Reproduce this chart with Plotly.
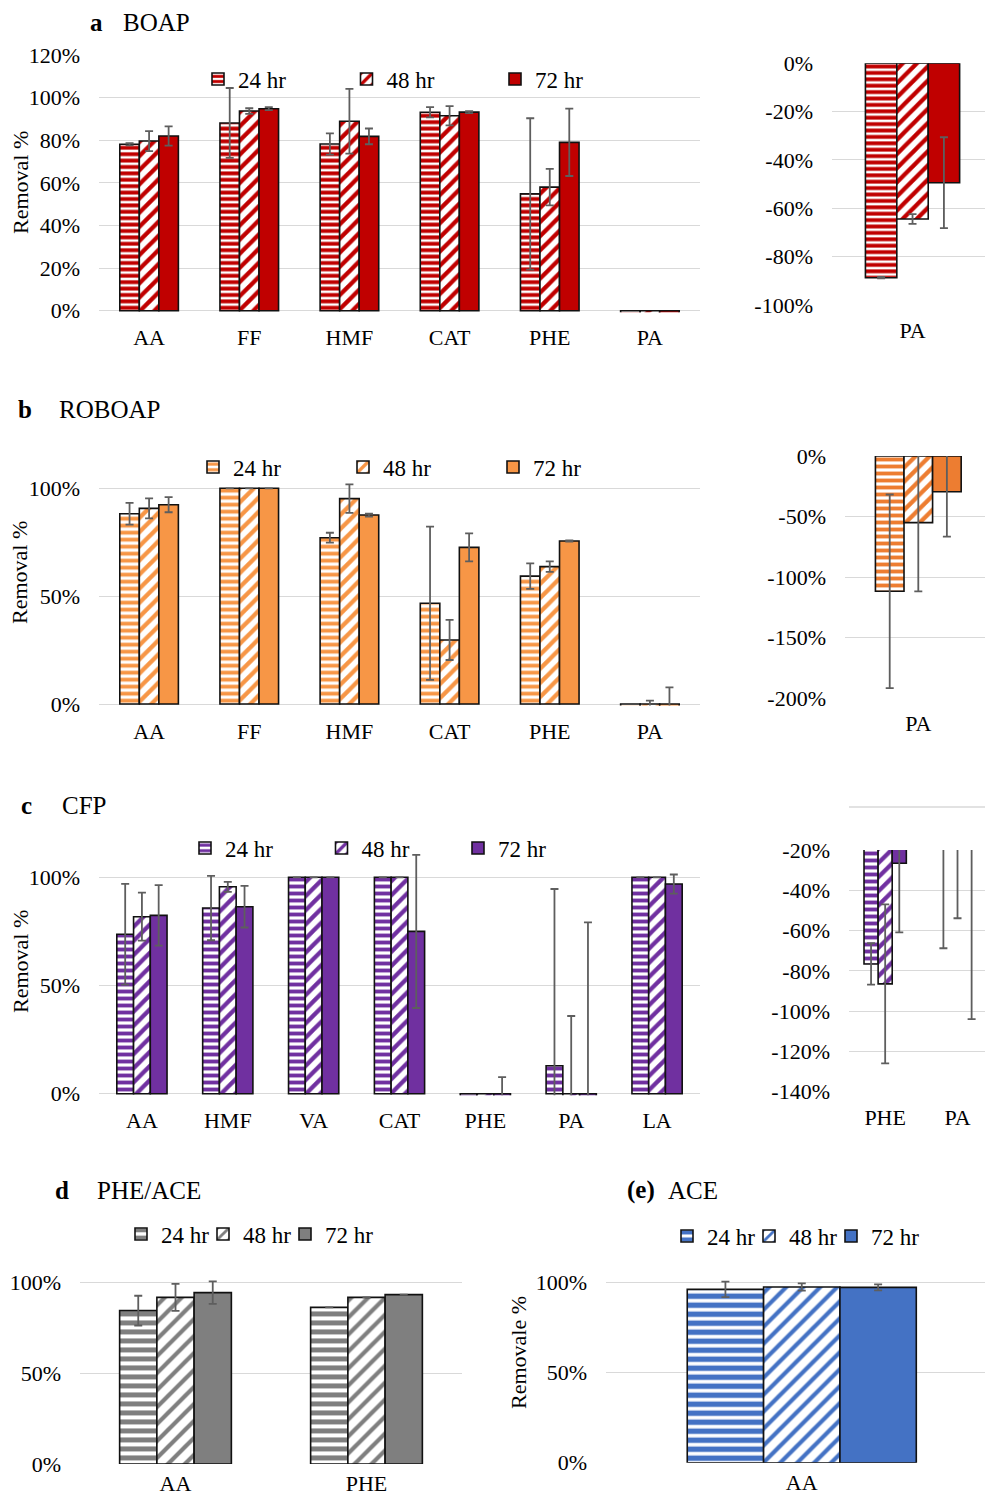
import plotly.graph_objects as go

W, H = 985, 1498
SERIF = "Liberation Serif"
GRID = "#D9D9D9"
ERR = "#5E5E5E"
EDGE = "#111111"
HOURS = ["24 hr", "48 hr", "72 hr"]

# ---- a  BOAP ----
boap_cats = ["AA", "FF", "HMF", "CAT", "PHE", "PA"]
boap_24 = [78.1, 88.1, 78.2, 93.1, 54.8, -88.7]
boap_48 = [79.6, 93.7, 88.9, 91.5, 58.0, -64.4]
boap_72 = [82.0, 94.8, 81.8, 93.2, 79.0, -49.4]
boap_24_err = [0.5, 16.4, 5.0, 2.4, 35.5, 0.3]
boap_48_err = [4.7, 1.3, 15.2, 4.5, 8.6, 2.0]
boap_72_err = [4.5, 0.7, 3.7, 0.5, 15.8, 18.8]
boap_neg = ["PA"]
boap_ticks = [0, 20, 40, 60, 80, 100, 120]
boap_ticktext = ["0%", "20%", "40%", "60%", "80%", "100%", "120%"]
boap_neg_ticks = [-100, -80, -60, -40, -20, 0]
boap_neg_ticktext = ["-100%", "-80%", "-60%", "-40%", "-20%", "0%"]

# ---- b  ROBOAP ----
roboap_cats = ["AA", "FF", "HMF", "CAT", "PHE", "PA"]
roboap_24 = [88.2, 100.0, 77.1, 46.7, 59.3, -111.8]
roboap_48 = [90.7, 100.0, 95.2, 29.7, 63.7, -55.1]
roboap_72 = [92.4, 100.0, 87.6, 72.6, 75.6, -29.5]
roboap_24_err = [5.0, 0.0, 2.3, 35.5, 5.9, 80.0]
roboap_48_err = [4.6, 0.0, 6.6, 9.3, 2.4, 56.7]
roboap_72_err = [3.5, 0.0, 0.7, 6.5, 0.3, 37.2]
roboap_neg = ["PA"]
roboap_ticks = [0, 50, 100]
roboap_ticktext = ["0%", "50%", "100%"]
roboap_neg_ticks = [-200, -150, -100, -50, 0]
roboap_neg_ticktext = ["-200%", "-150%", "-100%", "-50%", "0%"]

# ---- c  CFP ----
cfp_cats = ["AA", "HMF", "VA", "CAT", "PHE", "PA", "LA"]
cfp_24 = [73.7, 85.8, 100.0, 100.0, -76.6, 12.9, 100.0]
cfp_48 = [81.8, 95.6, 100.0, 100.0, -86.5, -9.0, 100.0]
cfp_72 = [82.4, 86.4, 100.0, 75.0, -26.6, -12.4, 96.9]
cfp_24_err = [23.3, 14.9, 0.0, 0.0, 10.3, 81.7, 0.0]
cfp_48_err = [11.1, 2.3, 0.0, 0.0, 39.5, 44.9, 0.0]
cfp_72_err = [14.0, 9.6, 0.0, 35.4, 34.3, 91.6, 4.4]
cfp_neg = ["PHE", "PA"]
cfp_ticks = [0, 50, 100]
cfp_ticktext = ["0%", "50%", "100%"]
cfp_neg_ticks = [-140, -120, -100, -80, -60, -40, -20]
cfp_neg_ticktext = ["-140%", "-120%", "-100%", "-80%", "-60%", "-40%", "-20%"]

# ---- d  PHE/ACE ----
pheace_cats = ["AA", "PHE"]
pheace_24 = [84.6, 86.4]
pheace_48 = [91.9, 91.9]
pheace_72 = [94.5, 93.4]
pheace_24_err = [8.2, 0.0]
pheace_48_err = [7.4, 0.0]
pheace_72_err = [6.2, 0.0]
pheace_ticks = [0, 50, 100]
pheace_ticktext = ["0%", "50%", "100%"]

# ---- e  ACE ----
ace_cats = ["AA"]
ace_24 = [96.3]
ace_48 = [97.6]
ace_72 = [97.4]
ace_24_err = [4.3]
ace_48_err = [2.0]
ace_72_err = [1.7]
ace_ticks = [0, 50, 100]
ace_ticktext = ["0%", "50%", "100%"]


def px_x(p):
    return p / W


def px_y(p):
    return 1 - p / H


def ydomain(zero_px, px_per_unit, lo, hi):
    top = zero_px - px_per_unit * hi
    bot = zero_px - px_per_unit * lo
    return [px_y(bot), px_y(top)]


fig = go.Figure()


def add_bars(cats, series, errs, n, color, legend, showlegend, stripe, diag, last_width):
    shapes = [
        dict(shape="-", fgcolor=color, bgcolor="white", fgopacity=1, size=stripe[0], solidity=stripe[1]),
        dict(shape="/", fgcolor=color, bgcolor="white", fgopacity=1, size=diag[0], solidity=diag[1]),
        None,
    ]
    for k, (name, vals, err, pat) in enumerate(zip(HOURS, series, errs, shapes)):
        marker = dict(color=color, line=dict(color=EDGE, width=1.6))
        if pat:
            marker["pattern"] = pat
        extra = {}
        if k == 2 and showlegend:
            extra["legendwidth"] = last_width
        fig.add_trace(go.Bar(
            x=cats, y=vals, name=name, marker=marker,
            error_y=dict(type="data", array=err, color=ERR, thickness=1.8, width=4),
            xaxis=f"x{n}" if n > 1 else "x", yaxis=f"y{n}" if n > 1 else "y",
            legend=legend, showlegend=showlegend, **extra,
        ))


def pick(cats, sub, arr):
    return [arr[cats.index(c)] for c in sub]


RED = "#C00000"
ORANGE = "#F79646"
ORANGE_D = "#ED7D31"
PURPLE = "#7030A0"
GREY = "#7F7F7F"
BLUE = "#4472C4"

# a
add_bars(boap_cats, [boap_24, boap_48, boap_72], [boap_24_err, boap_48_err, boap_72_err],
         1, RED, "legend", True, (6.4, 0.6), (10, 0.42), 80)
add_bars(boap_neg, [pick(boap_cats, boap_neg, s) for s in (boap_24, boap_48, boap_72)],
         [pick(boap_cats, boap_neg, s) for s in (boap_24_err, boap_48_err, boap_72_err)],
         2, RED, "legend", False, (6.4, 0.6), (10, 0.42), 80)
# b
add_bars(roboap_cats, [roboap_24, roboap_48, roboap_72], [roboap_24_err, roboap_48_err, roboap_72_err],
         3, ORANGE, "legend2", True, (7, 0.55), (10, 0.42), 80)
add_bars(roboap_neg, [pick(roboap_cats, roboap_neg, s) for s in (roboap_24, roboap_48, roboap_72)],
         [pick(roboap_cats, roboap_neg, s) for s in (roboap_24_err, roboap_48_err, roboap_72_err)],
         4, ORANGE_D, "legend2", False, (7, 0.55), (10, 0.42), 80)
# c
add_bars(cfp_cats, [cfp_24, cfp_48, cfp_72], [cfp_24_err, cfp_48_err, cfp_72_err],
         5, PURPLE, "legend3", True, (7, 0.55), (10, 0.42), 80)
add_bars(cfp_neg, [pick(cfp_cats, cfp_neg, s) for s in (cfp_24, cfp_48, cfp_72)],
         [pick(cfp_cats, cfp_neg, s) for s in (cfp_24_err, cfp_48_err, cfp_72_err)],
         6, PURPLE, "legend3", False, (7, 0.55), (10, 0.42), 80)
# d
add_bars(pheace_cats, [pheace_24, pheace_48, pheace_72], [pheace_24_err, pheace_48_err, pheace_72_err],
         7, GREY, "legend4", True, (9, 0.55), (12, 0.35), 80)
# e
add_bars(ace_cats, [ace_24, ace_48, ace_72], [ace_24_err, ace_48_err, ace_72_err],
         8, BLUE, "legend5", True, (9, 0.6), (12, 0.35), 80)

TICKFONT = dict(family=SERIF, size=22, color="black")


def yax(zero_px, ppu, lo, hi, tickvals, ticktext, xanchor):
    return dict(domain=ydomain(zero_px, ppu, lo, hi), range=[lo, hi],
                tickmode="array", tickvals=tickvals, ticktext=ticktext,
                showgrid=True, gridcolor=GRID, gridwidth=1.3,
                zeroline=False, showline=False, ticks="", tickfont=TICKFONT,
                ticklabelstandoff=18, anchor=xanchor, fixedrange=True, automargin=False)


def xax(x0, x1, yanchor, rng=None, standoff=10):
    d = dict(domain=[px_x(x0), px_x(x1)], showgrid=False, zeroline=False, showline=False,
             ticks="", tickfont=TICKFONT, ticklabelstandoff=standoff, anchor=yanchor,
             type="category", fixedrange=True, automargin=False)
    if rng is not None:
        d["range"] = rng
    return d


layout = dict(
    template="none",
    width=W, height=H, margin=dict(l=0, r=0, t=0, b=0, pad=0, autoexpand=False),
    paper_bgcolor="white", plot_bgcolor="white",
    barmode="group", bargap=0.415, bargroupgap=0,
    font=dict(family=SERIF, color="black"),
    xaxis=xax(99, 700, "y"),
    yaxis=yax(310.7, 2.131, -0.7, 120, boap_ticks, boap_ticktext, "x"),
    xaxis2=xax(832, 985, "y2", [-0.5, 0.45]),
    yaxis2=yax(63.3, 2.417, -100, 0, boap_neg_ticks, boap_neg_ticktext, "x2"),
    xaxis3=xax(99, 700, "y3"),
    yaxis3=yax(704, 2.157, -0.7, 120, roboap_ticks, roboap_ticktext, "x3"),
    xaxis4=xax(845, 985, "y4", [-0.5, 0.455]),
    yaxis4=yax(456, 1.21, -200, 0, roboap_neg_ticks, roboap_neg_ticktext, "x4"),
    xaxis5=xax(99, 700, "y5"),
    yaxis5=yax(1093.7, 2.164, -0.7, 120, cfp_ticks, cfp_ticktext, "x5"),
    xaxis6=xax(849, 985, "y6", [-0.5, 1.38]),
    yaxis6=yax(809.7, 2.014, -140, -20, cfp_neg_ticks, cfp_neg_ticktext, "x6"),
    xaxis7=xax(80, 462, "y7", standoff=4),
    yaxis7=yax(1464, 1.813, 0, 120, pheace_ticks, pheace_ticktext, "x7"),
    xaxis8=xax(606, 985, "y8", [-0.5, 0.468], standoff=4),
    yaxis8=yax(1462.7, 1.8, 0, 120, ace_ticks, ace_ticktext, "x8"),
)

LEGFONT = dict(family=SERIF, size=23, color="black")


def leg(x_left_px, y_px, entry):
    return dict(orientation="h", x=px_x(x_left_px), xanchor="left", y=px_y(y_px), yanchor="middle",
                font=LEGFONT, entrywidth=entry, entrywidthmode="pixels",
                bgcolor="rgba(0,0,0,0)", borderwidth=0, traceorder="normal",
                itemclick=False, itemdoubleclick=False)


layout["legend"] = leg(198, 79, 148.5 - 45)
layout["legend2"] = leg(193, 467, 150 - 45)
layout["legend3"] = leg(185, 848, 136.5 - 45)
layout["legend4"] = leg(121, 1234, 82 - 45)
layout["legend5"] = leg(667, 1236, 82 - 45)

fig.update_layout(**layout)

# top border line of the CFP inset plot area
fig.add_shape(type="line", xref="paper", yref="paper", x0=px_x(849), x1=1, y0=px_y(807), y1=px_y(807),
              line=dict(color=GRID, width=1.3))


def text(x_px, y_px, s, size=25, bold=False, anchor="left", angle=0):
    fig.add_annotation(x=px_x(x_px), y=px_y(y_px), xref="paper", yref="paper",
                       text=f"<b>{s}</b>" if bold else s, showarrow=False,
                       xanchor=anchor, yanchor="middle", textangle=angle,
                       font=dict(family=SERIF, size=size, color="black"))


# panel titles
text(88, 23, "a", bold=True)
text(121, 23, "BOAP")
text(16, 410, "b", bold=True)
text(57, 410, "ROBOAP")
text(19, 805, "c", bold=True)
text(60, 805, "CFP")
text(53, 1190, "d", bold=True)
text(95, 1190, "PHE/ACE")
text(625, 1190, "(e)", bold=True)
text(666, 1190, "ACE")

# axis titles
text(20, 183, "Removal %", size=22, anchor="center", angle=-90)
text(20, 573, "Removal %", size=22, anchor="center", angle=-90)
text(20, 962, "Removal %", size=22, anchor="center", angle=-90)
text(518, 1353, "Removale %", size=22, anchor="center", angle=-90)

fig.write_html("out.html")
